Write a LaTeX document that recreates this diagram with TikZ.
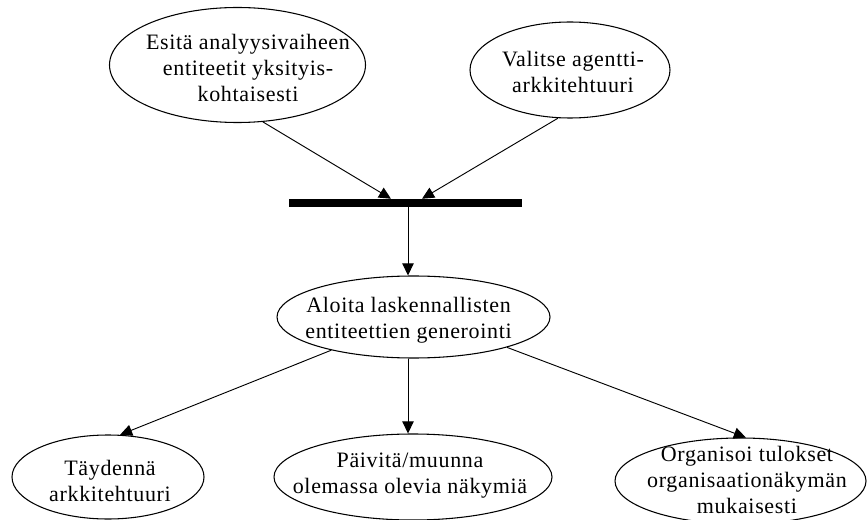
\documentclass[tikz,border=0pt]{standalone}
\usepackage{fontspec}
\setmainfont{Liberation Serif}[LetterSpace=3]
\usetikzlibrary{arrows.meta,shapes.geometric}

\tikzset{
  oval/.style={draw=black, line width=0.8pt, fill=white, ellipse, inner sep=0pt},
  lbl/.style={align=center, inner sep=0pt,
    font=\fontsize{16.5pt}{19.5pt}\selectfont},
  joinbar/.style={fill=black, draw=none, rectangle, inner sep=0pt},
  flow/.style={line width=0.7pt, -{Triangle[length=9pt, width=8.5pt]}}
}

\begin{document}
\begin{tikzpicture}[x=0.75pt, y=-0.75pt]
  \useasboundingbox (0,0) rectangle (867,520);

  % inputs
  \node[oval, minimum width=256*0.75pt, minimum height=115*0.75pt] (e1) at (237.5,65) {};
  \node[lbl] (t1) at (248,68) {Esitä analyysivaiheen\\entiteetit yksityis-\\kohtaisesti};
  \node[oval, minimum width=200*0.75pt, minimum height=96*0.75pt] (e2) at (570,70) {};
  \node[lbl] (t2) at (573,71.5) {Valitse agentti-\\arkkitehtuuri};

  % synchronisation bar
  \node[joinbar, minimum width=233*0.75pt, minimum height=8*0.75pt] (bar) at (405.5,203) {};
  \coordinate (in1) at ([xshift=-10.9pt]bar.north);
  \coordinate (in2) at ([xshift=12.4pt]bar.north);
  \coordinate (vx) at (408,0);

  % generation step
  \node[oval, minimum width=273*0.75pt, minimum height=82*0.75pt] (e3) at (413.5,317) {};
  \node[lbl] (t3) at (408.5,320) {Aloita laskennallisten\\entiteettien generointi};

  % outputs
  \node[oval, minimum width=192*0.75pt, minimum height=84*0.75pt] (e4) at (108,477) {};
  \node[lbl] (t4) at (110,481) {Täydennä\\arkkitehtuuri};
  \node[oval, minimum width=278*0.75pt, minimum height=86*0.75pt] (e5) at (413,477) {};
  \node[lbl] (t5) at (410,476) {Päivitä/muunna\\olemassa olevia näkymiä};
  \node[oval, minimum width=251*0.75pt, minimum height=86*0.75pt] (e6) at (740.5,481) {};
  \node[lbl] (t6) at (747,480) {Organisoi tulokset\\organisaationäkymän\\mukaisesti};

  % connectors
  \draw[flow] (e1.-66) -- (in1);
  \draw[flow] (e2.-104) -- (in2);
  \draw[flow] (bar.south -| vx) -- (e3.north -| vx);
  \draw[flow] (e3.-158) -- (e4.74);
  \draw[flow] (e3.south -| vx) -- (e5.north -| vx);
  \draw[flow] (e3.-18) -- (e6.83);
\end{tikzpicture}
\end{document}
